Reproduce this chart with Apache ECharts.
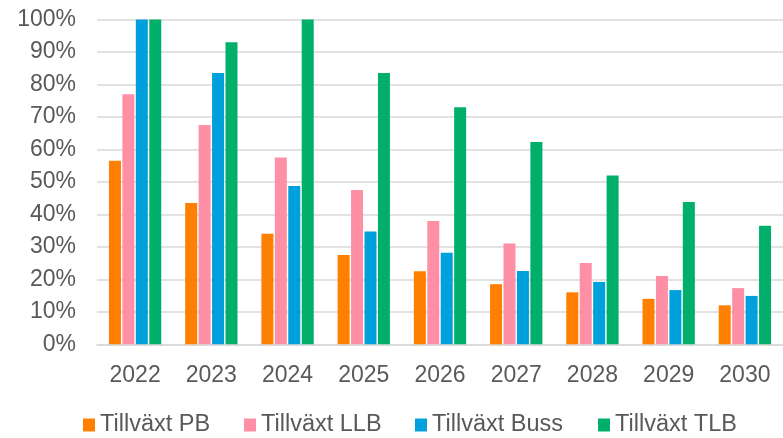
<!DOCTYPE html>
<html>
<head>
<meta charset="utf-8">
<script src="https://cdn.jsdelivr.net/npm/echarts@6/dist/echarts.min.js"></script>
<style>html,body{margin:0;padding:0;background:#fff;}#c{width:783px;height:438px;}</style>
</head>
<body>
<div id="c"></div>
<script>
var categories = ['2022','2023','2024','2025','2026','2027','2028','2029','2030'];
var seriesNames = ['Tillväxt PB','Tillväxt LLB','Tillväxt Buss','Tillväxt TLB'];
var tillvaxtPB   = [56.5, 43.5, 34, 27.5, 22.5, 18.5, 16, 14, 12];
var tillvaxtLLB  = [77, 67.5, 57.5, 47.5, 38, 31, 25, 21, 17.3];
var tillvaxtBuss = [100, 83.5, 48.7, 34.7, 28.2, 22.6, 19.2, 16.7, 14.9];
var tillvaxtTLB  = [100, 93, 100, 83.5, 73, 62.3, 52, 43.8, 36.5];
var yTicks = [0,10,20,30,40,50,60,70,80,90,100];
var colors = ['#FF8000','#FF8FA5','#00A0DC','#00AF6A'];
var legendLefts = [83, 244, 415, 598];

var font = 'Liberation Sans, Arial, sans-serif';
var chart = echarts.init(document.getElementById('c'), null, {renderer:'canvas'});
var dataSets = [tillvaxtPB, tillvaxtLLB, tillvaxtBuss, tillvaxtTLB];
chart.setOption({
  animation: false,
  backgroundColor: '#fff',
  color: colors,
  grid: {left: 97, right: -3, top: 19.5, bottom: 93.7, containLabel: false},
  legend: seriesNames.map(function(n, i){
    return {
      left: legendLefts[i], top: 413, padding: 0,
      itemWidth: 12, itemHeight: 13,
      icon: 'rect',
      textStyle: {fontFamily: font, fontSize: 23.5, color: '#595959'},
      data: [n]
    };
  }),
  xAxis: {
    type: 'category', data: categories,
    axisLine: {show: true, lineStyle: {color: '#D9D9D9', width: 1.5}},
    axisTick: {show: false},
    axisLabel: {fontFamily: font, fontSize: 23, color: '#595959', margin: 20}
  },
  yAxis: {
    type: 'value', min: yTicks[0], max: yTicks[yTicks.length-1], interval: yTicks[1]-yTicks[0],
    axisLine: {show: false}, axisTick: {show: false},
    splitLine: {lineStyle: {color: '#D9D9D9', width: 1.5}},
    axisLabel: {fontFamily: font, fontSize: 23, color: '#595959', margin: 21, formatter: '{value}%'}
  },
  series: seriesNames.map(function(n, i){
    return {name: n, type: 'bar', data: dataSets[i], barWidth: 12, barGap: '12%'};
  })
});
</script>
</body>
</html>
